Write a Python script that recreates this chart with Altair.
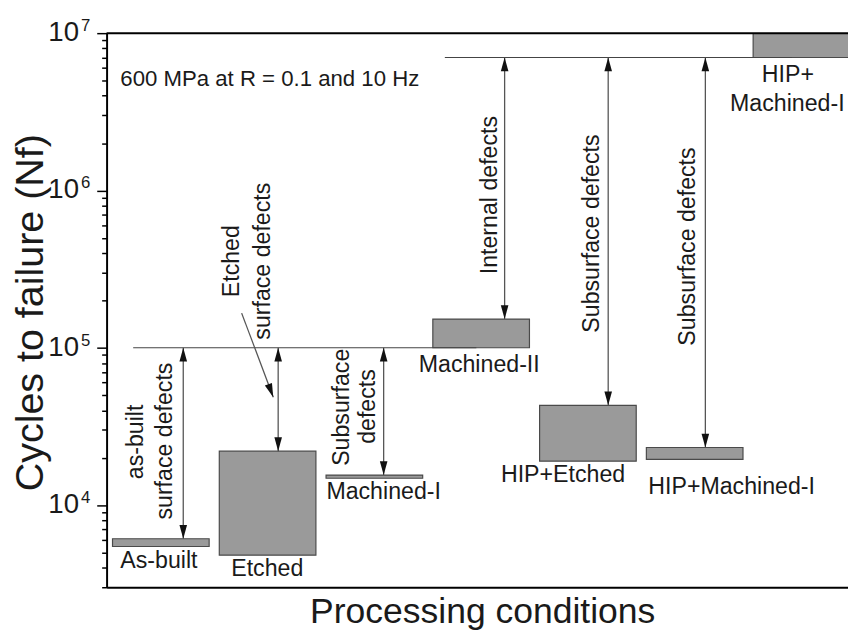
import altair as alt
import pandas as pd

# ---------------- data ----------------
categories = ["As-built", "Etched", "Machined-I", "Machined-II",
              "HIP+Etched", "HIP+Machined-I", "HIP+Machined-I (upper)"]
cycles_low = [5450, 4800, 14800, 100000, 19000, 19500, 7.0e6]
cycles_high = [6100, 22000, 15500, 152000, 43000, 23200, 1.0e7]

label_text = ["As-built", "Etched", "Machined-I", "Machined-II",
              "HIP+Etched", "HIP+Machined-I", "HIP+", "Machined-I"]
label_x = [-0.018, 0.997, 2.087, 2.982, 3.767, 5.346, 5.873, 5.868]
label_y = [4385, 3900, 12050, 77800, 15400, 12950, 5.45e6, 3.53e6]

rot_text = ["as-built", "surface defects", "Etched", "surface defects",
            "Subsurface", "defects", "Internal defects",
            "Subsurface defects", "Subsurface defects"]
rot_x = [-0.231, 0.037, 0.665, 0.96, 1.699, 1.939, 3.084, 4.035, 4.94]
rot_y = [25200, 25500, 355000, 355000, 41800, 42300, 934000, 532000, 440000]

note_text = ["600 MPa at R = 0.1 and 10 Hz"]
note_x = [-0.379]
note_y = [5.14e6]

ref_y = [1e5, 7e6]
ref_x0 = [-0.259, 2.66]
ref_x1 = [2.955, 5.91]

arrow_x = [0.21, 1.099, 2.087, 3.22, 4.19, 5.10]
arrow_top = [1e5, 1e5, 1e5, 7e6, 7e6, 7e6]
arrow_bot = [6100, 22000, 15500, 152000, 43000, 23200]

diag_x = [0.757]
diag_y = [166000]
diag_x2 = [1.053]
diag_y2 = [48500]

major_ticks = [1e4, 1e5, 1e6, 1e7]
tick_base = ["10", "10", "10", "10"]
tick_exp = ["4", "5", "6", "7"]
all_ticks = sorted(set([m * 10 ** k for k in range(3, 7) for m in range(1, 10)
                        if 3000 <= m * 10 ** k <= 1e7] + [1e7]))

# ---------------- styling ----------------
FONT = "Liberation Sans"
TXT = "#1a1a1a"
xs = alt.Scale(domain=[-0.508, 6.436], nice=False, zero=False)
ys = alt.Scale(type="log", domain=[3000, 1e7], nice=False)
UP = "M0,0L0.55,2L-0.55,2Z"
DOWN = "M0,0L0.55,-2L-0.55,-2Z"

bars_df = pd.DataFrame({"cat": categories, "idx": range(len(categories)),
                        "lo": cycles_low, "hi": cycles_high})
bars_df["x0"] = bars_df["idx"] - 0.4525
bars_df["x1"] = bars_df["idx"] + 0.4525

x_axis = alt.Axis(
    labels=False, ticks=False, grid=False, title="Processing conditions",
    titleFont=FONT, titleFontSize=36, titleFontWeight="normal", titleColor=TXT,
    titleX=381, titleY=36, titleAlign="center", titleBaseline="alphabetic",
    domainColor="black", domainWidth=2)
y_axis = alt.Axis(
    values=all_ticks, labels=False, grid=False, tickColor="black", tickWidth=1.5,
    tickSize={"condition": {"test": "indexof([10000,100000,1000000,10000000], datum.value) >= 0",
                            "value": 10}, "value": 5},
    domainColor="black", domainWidth=2,
    title="Cycles to failure (Nf)", titleFont=FONT, titleFontSize=40,
    titleFontWeight="normal", titleColor=TXT, titleAngle=270,
    titleX=-77, titleY=283, titleAlign="center", titleBaseline="middle")


def X(f):
    return alt.X(f, scale=xs, axis=x_axis)


def Y(f):
    return alt.Y(f, scale=ys, axis=y_axis)


bars = alt.Chart(bars_df).mark_rect(
    fill="#9a9a9a", stroke="#4a4a4a", strokeWidth=1.2, clip=True
).encode(x=X("x0:Q"), x2="x1:Q", y=Y("lo:Q"), y2="hi:Q")

ref_df = pd.DataFrame({"y": ref_y, "x0": ref_x0, "x1": ref_x1})
reflines = alt.Chart(ref_df).mark_rule(color="#444444", strokeWidth=1.1).encode(
    x=X("x0:Q"), x2="x1:Q", y=Y("y:Q"))

arr_df = pd.DataFrame({"x": arrow_x, "top": arrow_top, "bot": arrow_bot})
shafts = alt.Chart(arr_df).mark_rule(color="#555555", strokeWidth=1.3).encode(
    x=X("x:Q"), y=Y("top:Q"), y2="bot:Q")
heads_up = alt.Chart(arr_df).mark_point(
    shape=UP, filled=True, color="#111111", size=196, opacity=1, strokeWidth=0
).encode(x=X("x:Q"), y=Y("top:Q"))
heads_down = alt.Chart(arr_df).mark_point(
    shape=DOWN, filled=True, color="#111111", size=196, opacity=1, strokeWidth=0
).encode(x=X("x:Q"), y=Y("bot:Q"))

diag_df = pd.DataFrame({"x": diag_x, "y": diag_y, "x2": diag_x2, "y2": diag_y2})
diag = alt.Chart(diag_df).mark_rule(color="#555555", strokeWidth=1.3).encode(
    x=X("x:Q"), x2="x2:Q", y=Y("y:Q"), y2="y2:Q")
diag_head = alt.Chart(diag_df).mark_point(
    shape=DOWN, angle=339.4, filled=True, color="#111111", size=196, opacity=1, strokeWidth=0
).encode(x=X("x2:Q"), y=Y("y2:Q"))

rot_df = pd.DataFrame({"t": rot_text, "x": rot_x, "y": rot_y})
rot_texts = alt.Chart(rot_df).mark_text(
    angle=270, align="center", baseline="middle", font=FONT, fontSize=23.5, color=TXT
).encode(x=X("x:Q"), y=Y("y:Q"), text="t:N")

lab_df = pd.DataFrame({"t": label_text, "x": label_x, "y": label_y})
labels = alt.Chart(lab_df).mark_text(
    align="center", baseline="middle", font=FONT, fontSize=23.5, color=TXT
).encode(x=X("x:Q"), y=Y("y:Q"), text="t:N")

note_df = pd.DataFrame({"t": note_text, "x": note_x, "y": note_y})
note = alt.Chart(note_df).mark_text(
    align="left", baseline="middle", font=FONT, fontSize=22.5, color=TXT
).encode(x=X("x:Q"), y=Y("y:Q"), text="t:N")

top_df = pd.DataFrame({"v": [1e7]})
top_border = alt.Chart(top_df).mark_rule(color="black", strokeWidth=2).encode(
    y=Y("v:Q"))

tl_df = pd.DataFrame({"v": major_ticks, "base": tick_base, "exp": tick_exp})
base_txt = alt.Chart(tl_df).mark_text(
    align="right", baseline="middle", font=FONT, fontSize=28, color=TXT
).encode(x=alt.value(-28), y=Y("v:Q"), text="base:N")
exp_txt = alt.Chart(tl_df).mark_text(
    align="left", baseline="middle", font=FONT, fontSize=17, dy=-7, color=TXT
).encode(x=alt.value(-26), y=Y("v:Q"), text="exp:N")

chart = alt.layer(
    bars, reflines, shafts, heads_up, heads_down, diag, diag_head,
    rot_texts, labels, note, top_border, base_txt, exp_txt
).properties(
    width=752, height=562,
    padding={"left": 100, "top": 21, "right": 0, "bottom": 50},
    autosize=alt.AutoSizeParams(type="none"),
).configure_view(stroke=None)

chart.save("out.html", embed_options={"renderer": "svg", "actions": False})
